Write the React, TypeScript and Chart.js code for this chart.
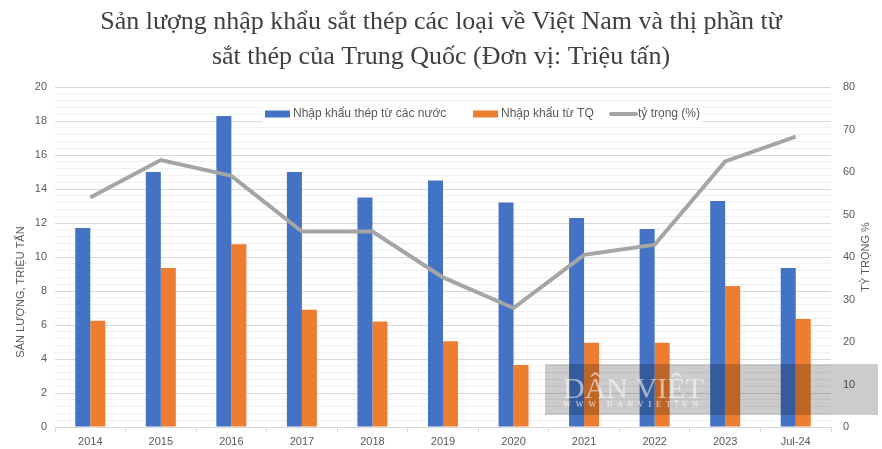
import React, { useEffect, useRef } from 'react';
import { Chart, registerables } from 'chart.js';

Chart.register(...registerables);

const categories = ['2014', '2015', '2016', '2017', '2018', '2019', '2020', '2021', '2022', '2023', 'Jul-24'];
const totalImports = [11.7, 15.0, 18.3, 15.0, 13.5, 14.5, 13.2, 12.3, 11.65, 13.3, 9.35];
const chinaImports = [6.25, 9.35, 10.75, 6.9, 6.2, 5.05, 3.65, 4.95, 4.95, 8.3, 6.35];
const chinaShare = [54.0, 62.8, 59.1, 46.0, 46.0, 35.2, 28.0, 40.5, 42.9, 62.5, 68.3];
const seriesNames = ['Nhập khẩu thép từ các nước', 'Nhập khẩu từ TQ', 'tỷ trọng (%)'];
const titleLines = [
  'Sản lượng nhập khẩu sắt thép các loại về Việt Nam và thị phần từ',
  'sắt thép của Trung Quốc (Đơn vị: Triệu tấn)',
];
const leftAxisTitle = 'SẢN LƯỢNG, TRIỆU TẤN';
const rightAxisTitle = 'TỶ TRỌNG %';
const watermarkText = 'DÂN VIỆT';
const watermarkSub = 'WWW.DANVIET.VN';

const BLUE = '#4472C4';
const ORANGE = '#ED7D31';
const GRAY = '#A5A5A5';
const TEXT = '#595959';
const SANS = "'Liberation Sans', Arial, sans-serif";

const extrasPlugin = {
  id: 'extras',
  afterDraw(chart: any) {
    const ctx = chart.ctx as CanvasRenderingContext2D;
    const area = chart.chartArea;
    ctx.save();
    // Axis titles
    ctx.fillStyle = TEXT;
    ctx.font = `11px ${SANS}`;
    ctx.textAlign = 'center';
    ctx.textBaseline = 'middle';
    ctx.save();
    ctx.translate(21, 292);
    ctx.rotate(-Math.PI / 2);
    ctx.fillText(leftAxisTitle, 0, 0);
    ctx.restore();
    ctx.save();
    ctx.translate(866, (area.top + area.bottom) / 2);
    ctx.rotate(-Math.PI / 2);
    ctx.fillText(rightAxisTitle, 0, 0);
    ctx.restore();

    // Legend (inside plot area, white background)
    const ly = 114;
    ctx.fillStyle = '#ffffff';
    ctx.fillRect(262, 105, 440, 18);
    ctx.font = `12px ${SANS}`;
    ctx.textAlign = 'left';
    ctx.textBaseline = 'middle';
    ctx.fillStyle = BLUE;
    ctx.fillRect(265, ly - 3.5, 25, 7);
    ctx.fillStyle = TEXT;
    ctx.fillText(seriesNames[0], 293, ly);
    ctx.fillStyle = ORANGE;
    ctx.fillRect(473, ly - 3.5, 25, 7);
    ctx.fillStyle = TEXT;
    ctx.fillText(seriesNames[1], 501, ly);
    ctx.strokeStyle = GRAY;
    ctx.lineWidth = 4;
    ctx.lineCap = 'round';
    ctx.beginPath();
    ctx.moveTo(611, ly);
    ctx.lineTo(636, ly);
    ctx.stroke();
    ctx.fillStyle = TEXT;
    ctx.fillText(seriesNames[2], 638, ly);

    // Watermark
    ctx.fillStyle = 'rgba(0,0,0,0.2)';
    ctx.fillRect(545, 364, 333, 51);
    ctx.fillStyle = 'rgba(255,255,255,0.55)';
    ctx.font = `30px 'Liberation Serif', serif`;
    ctx.textAlign = 'left';
    ctx.textBaseline = 'alphabetic';
    ctx.fillText(watermarkText, 563, 398);
    ctx.font = `bold 8px 'Liberation Serif', serif`;
    (ctx as any).letterSpacing = '4.6px';
    ctx.textBaseline = 'middle';
    ctx.fillText(watermarkSub, 563, 405);
    ctx.restore();
  },
};

function isMajor(v: number) {
  return Math.abs(v / 2 - Math.round(v / 2)) < 1e-6;
}

export default function App() {
  const canvasRef = useRef<HTMLCanvasElement | null>(null);

  useEffect(() => {
    document.body.style.margin = '0';
    const canvas = canvasRef.current;
    if (!canvas) return;
    const chart = new Chart(canvas, {
      type: 'bar',
      data: {
        labels: categories,
        datasets: [
          {
            type: 'line',
            label: seriesNames[2],
            data: chinaShare,
            yAxisID: 'y1',
            borderColor: GRAY,
            backgroundColor: GRAY,
            borderWidth: 4,
            pointRadius: 0,
            tension: 0,
            order: 0,
          } as any,
          {
            label: seriesNames[0],
            data: totalImports,
            backgroundColor: BLUE,
            yAxisID: 'y',
            categoryPercentage: 0.4255,
            barPercentage: 1,
            order: 1,
          },
          {
            label: seriesNames[1],
            data: chinaImports,
            backgroundColor: ORANGE,
            yAxisID: 'y',
            categoryPercentage: 0.4255,
            barPercentage: 1,
            order: 1,
          },
        ],
      },
      options: {
        animation: false,
        responsive: true,
        maintainAspectRatio: false,
        layout: { padding: 0 },
        plugins: {
          legend: { display: false },
          tooltip: { enabled: false },
          title: {
            display: true,
            text: titleLines,
            color: '#404040',
            font: { family: "'Liberation Serif', 'Times New Roman', serif", size: 26, weight: 'normal', lineHeight: 35 / 26 },
            padding: { top: 5, bottom: 12 },
          },
        },
        scales: {
          x: {
            offset: true,
            grid: { display: true, drawOnChartArea: false, drawTicks: true, tickLength: 5, color: '#d9d9d9', offset: true },
            border: { display: true, color: '#d9d9d9' },
            ticks: { color: TEXT, font: { family: SANS, size: 11 }, padding: 3, maxRotation: 0 },
            afterFit(scale: any) {
              scale.height = 22;
            },
          },
          y: {
            position: 'left',
            min: 0,
            max: 20,
            ticks: {
              stepSize: 0.4,
              autoSkip: false,
              color: TEXT,
              font: { family: SANS, size: 11 },
              padding: 8,
              callback: (v: any) => (isMajor(Number(v)) ? String(Math.round(Number(v))) : ''),
            },
            grid: {
              drawTicks: false,
              color: (c: any) => (isMajor(c.tick.value) ? '#d9d9d9' : '#f0f0f0'),
              lineWidth: 1,
            },
            border: { display: false },
            afterFit(scale: any) {
              scale.width = 55;
            },
          },
          y1: {
            position: 'right',
            min: 0,
            max: 80,
            ticks: { stepSize: 10, color: TEXT, font: { family: SANS, size: 11 }, padding: 12 },
            grid: { drawOnChartArea: false, drawTicks: false },
            border: { display: false },
            afterFit(scale: any) {
              scale.width = 51;
            },
          },
        },
      },
      plugins: [extrasPlugin],
    });
    return () => chart.destroy();
  }, []);

  return (
    <div style={{ width: 882, height: 449, position: 'relative' }}>
      <canvas ref={canvasRef} />
    </div>
  );
}
